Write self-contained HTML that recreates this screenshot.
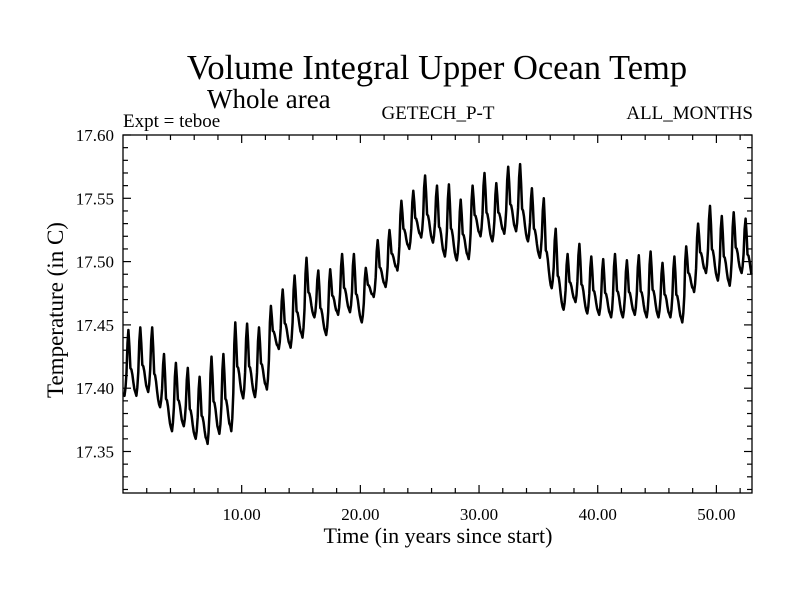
<!DOCTYPE html>
<html><head><meta charset="utf-8"><style>
body{margin:0;background:#fff}
svg{display:block;font-family:"Liberation Serif",serif}
</style></head><body>
<svg id="chart" width="800" height="600" viewBox="0 0 800 600">
<rect width="800" height="600" fill="#fff"/>
<text x="437" y="79" font-size="34.5" text-anchor="middle">Volume Integral Upper Ocean Temp</text>
<text x="207" y="108" font-size="27">Whole area</text>
<text x="123" y="127" font-size="19">Expt = teboe</text>
<text x="438" y="119" font-size="19" text-anchor="middle">GETECH_P-T</text>
<text x="753" y="119" font-size="19" text-anchor="end">ALL_MONTHS</text>
<text x="438" y="543" font-size="22" text-anchor="middle">Time (in years since start)</text>
<text x="0" y="0" font-size="23" text-anchor="middle" transform="translate(63,310) rotate(-90)">Temperature (in C)</text>
<g id="axes"></g>
<path id="series" fill="none" stroke="#000" stroke-width="2.5" stroke-linejoin="round"/>
<rect x="123" y="135" width="629" height="358" fill="none" stroke="#000" stroke-width="1.3"/>
</svg>
<script>
const peaks=[17.446,17.448,17.448,17.427,17.420,17.416,17.409,17.425,17.427,17.452,17.451,17.448,17.465,17.478,17.489,17.503,17.493,17.494,17.506,17.506,17.495,17.517,17.525,17.548,17.556,17.568,17.560,17.561,17.549,17.560,17.570,17.562,17.575,17.577,17.558,17.550,17.526,17.506,17.514,17.504,17.502,17.506,17.501,17.505,17.508,17.499,17.504,17.512,17.530,17.544,17.536,17.539,17.534];
const troughs=[17.394,17.397,17.385,17.366,17.370,17.360,17.356,17.364,17.366,17.392,17.393,17.399,17.431,17.432,17.440,17.456,17.442,17.458,17.460,17.452,17.472,17.480,17.493,17.510,17.519,17.515,17.504,17.501,17.502,17.520,17.516,17.522,17.524,17.516,17.503,17.479,17.462,17.468,17.459,17.458,17.456,17.456,17.458,17.456,17.456,17.456,17.452,17.476,17.491,17.485,17.481,17.491,17.485];
const seasonShape=[0.05,0,0.12,0.35,0.8,1.0,0.75,0.42,0.4,0.32,0.2,0.1];
const yTicks=[17.35,17.40,17.45,17.50,17.55,17.60];
const yTickLabels=["17.35","17.40","17.45","17.50","17.55","17.60"];
const xTicks=[10,20,30,40,50];
const xTickLabels=["10.00","20.00","30.00","40.00","50.00"];

const X0=123,X1=752,Y0=135,Y1=493,XMIN=0,XMAX=53,YMAX=17.60,YPX=63.3/0.05;
const xs=t=>X0+(t-XMIN)/(XMAX-XMIN)*(X1-X0);
const ys=v=>Y0+(YMAX-v)*YPX;
const YMIN=YMAX-(Y1-Y0)/YPX;
const NS='http://www.w3.org/2000/svg';
const g=document.getElementById('axes');
function line(x1,y1,x2,y2,name){const l=document.createElementNS(NS,'line');
l.setAttribute('x1',x1);l.setAttribute('y1',y1);l.setAttribute('x2',x2);l.setAttribute('y2',y2);
l.setAttribute('stroke','#000');l.setAttribute('stroke-width','1.2');


g.appendChild(l);}
function text(x,y,s,anchor,name){const t=document.createElementNS(NS,'text');
t.setAttribute('x',x);t.setAttribute('y',y);t.setAttribute('font-size','17');t.setAttribute('text-anchor',anchor);
t.textContent=s;


g.appendChild(t);}
for(let v=Math.ceil(YMIN*100)/100;v<=YMAX+1e-9;v+=0.01){const y=ys(v);
const major=Math.abs(v*20-Math.round(v*20))<1e-6;const L=major?8:5;
line(X0,y,X0+L,y,'y-tick');line(X1-L,y,X1,y,'y-tick-right');}
yTicks.forEach((v,i)=>text(X0-9,ys(v)+6,yTickLabels[i],'end','y-tick-label'));
for(let t=2;t<XMAX;t+=2){const x=xs(t);const major=t%10===0;const L=major?8:5;
line(x,Y1,x,Y1-L,'x-tick');line(x,Y0,x,Y0+L,'x-tick-top');}
xTicks.forEach((t,i)=>text(xs(t),Y1+27,xTickLabels[i],'middle','x-tick-label'));
let d='';
for(let k=0;k<peaks.length;k++){for(let m=0;m<12;m++){
const t=k+(m+0.5)/12;if(t>XMAX)break;
const base=m<5?(k>0?troughs[k-1]:troughs[0]):troughs[k];
const v=base+seasonShape[m]*(peaks[k]-base);
d+=(d?'L':'M')+xs(t).toFixed(1)+' '+ys(v).toFixed(1);}}
document.getElementById('series').setAttribute('d',d);
</script>
</body></html>
